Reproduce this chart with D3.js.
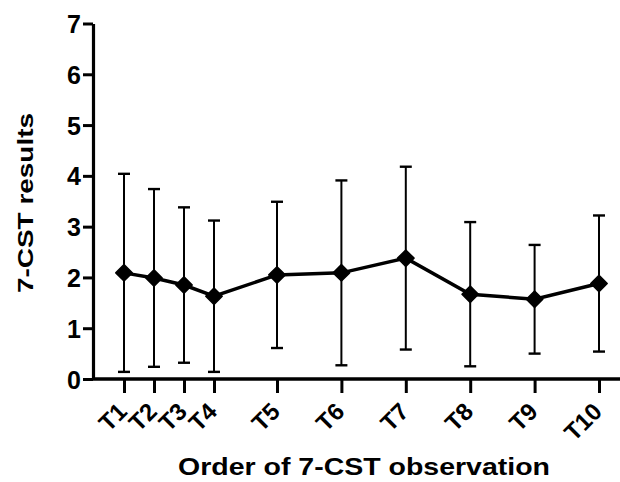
<!DOCTYPE html>
<html>
<head>
<meta charset="utf-8">
<script src="https://cdn.jsdelivr.net/npm/d3@7"></script>
<style>
  body { margin: 0; background: #fff; }
  text { font-family: "Liberation Sans", Arial, sans-serif; font-weight: bold; fill: #000; }
</style>
</head>
<body>
<svg id="chart" width="620" height="482"></svg>
<script>
let labels = ['T1', 'T2', 'T3', 'T4', 'T5', 'T6', 'T7', 'T8', 'T9', 'T10'];
let order = [1, 2, 3, 4, 5, 6, 7, 8, 9, 10];
let means = [2.09, 1.99, 1.85, 1.63, 2.05, 2.09, 2.38, 1.67, 1.57, 1.88];
let sds = [1.95, 1.75, 1.53, 1.49, 1.44, 1.82, 1.80, 1.42, 1.07, 1.34];
let yTicks = [0, 1, 2, 3, 4, 5, 6, 7];

let svg = d3.select('#chart');

// first four observations sit closer together on the axis
let x = d3.scaleLinear().domain([1, 4, 5, 10]).range([124, 214, 277, 599]);
let y = d3.scaleLinear().domain([0, 7]).range([379, 23.5]);
let axisLeft = 93;

// y axis
let yAxis = svg.append('g')
  .attr('transform', `translate(${axisLeft},0)`)
  .call(d3.axisLeft(y).tickValues(yTicks).tickFormat(d3.format('d'))
    .tickSize(10).tickPadding(2).tickSizeOuter(0));
yAxis.select('.domain').attr('stroke', '#000').attr('stroke-width', 3.2);
yAxis.selectAll('.tick line').attr('stroke', '#000').attr('stroke-width', 3);
yAxis.selectAll('.tick text')
  .style('font-size', '25px')
  .style('font-weight', 'bold')
  .attr('fill', '#000')
  .attr('dy', '0.36em');

// x axis
let xAxis = svg.append('g')
  .attr('transform', `translate(0,${y(0)})`)
  .call(d3.axisBottom(x).tickValues(order).tickFormat((d, i) => labels[i]).tickSize(14).tickSizeOuter(0));
xAxis.select('.domain').attr('d', `M${axisLeft},0H620`).attr('stroke', '#000').attr('stroke-width', 3.5);
xAxis.selectAll('.tick line').attr('stroke', '#000').attr('stroke-width', 3);
xAxis.selectAll('.tick text')
  .style('font-size', '24px')
  .style('font-weight', 'bold')
  .attr('fill', '#000')
  .attr('text-anchor', 'end')
  .attr('y', 0)
  .attr('dy', 0)
  .attr('transform', 'translate(4,34) rotate(-45)');

// error bars
let bars = svg.append('g');
means.forEach((m, i) => {
  let cx = x(order[i]);
  let lo = y(m - sds[i]);
  let hi = y(m + sds[i]);
  bars.append('line')
    .attr('x1', cx).attr('x2', cx)
    .attr('y1', lo).attr('y2', hi)
    .attr('stroke', '#000').attr('stroke-width', 2);
  [lo, hi].forEach((v) => {
    bars.append('line')
      .attr('x1', cx - 6).attr('x2', cx + 6)
      .attr('y1', v).attr('y2', v)
      .attr('stroke', '#000').attr('stroke-width', 2.4);
  });
});

// mean line
let line = d3.line()
  .x((d, i) => x(order[i]))
  .y((d) => y(d));

svg.append('path')
  .datum(means)
  .attr('d', line)
  .attr('fill', 'none')
  .attr('stroke', '#000')
  .attr('stroke-width', 3.5);

// diamonds
svg.append('g')
  .selectAll('path')
  .data(means)
  .join('path')
  .attr('d', d3.symbol(d3.symbolSquare, 135))
  .attr('transform', (d, i) => `translate(${x(order[i])},${y(d)}) rotate(45)`)
  .attr('fill', '#000')
  .attr('stroke', '#000')
  .attr('stroke-width', 1.5)
  .attr('stroke-linejoin', 'round');

// titles
svg.append('text')
  .text('Order of 7-CST observation')
  .attr('x', 364)
  .attr('y', 475)
  .attr('text-anchor', 'middle')
  .attr('textLength', 372)
  .attr('lengthAdjust', 'spacingAndGlyphs')
  .style('font-size', '24px');

svg.append('text')
  .text('7-CST results')
  .attr('transform', 'translate(33,203) rotate(-90)')
  .attr('text-anchor', 'middle')
  .attr('textLength', 180)
  .attr('lengthAdjust', 'spacingAndGlyphs')
  .style('font-size', '22px');
</script>
</body>
</html>
